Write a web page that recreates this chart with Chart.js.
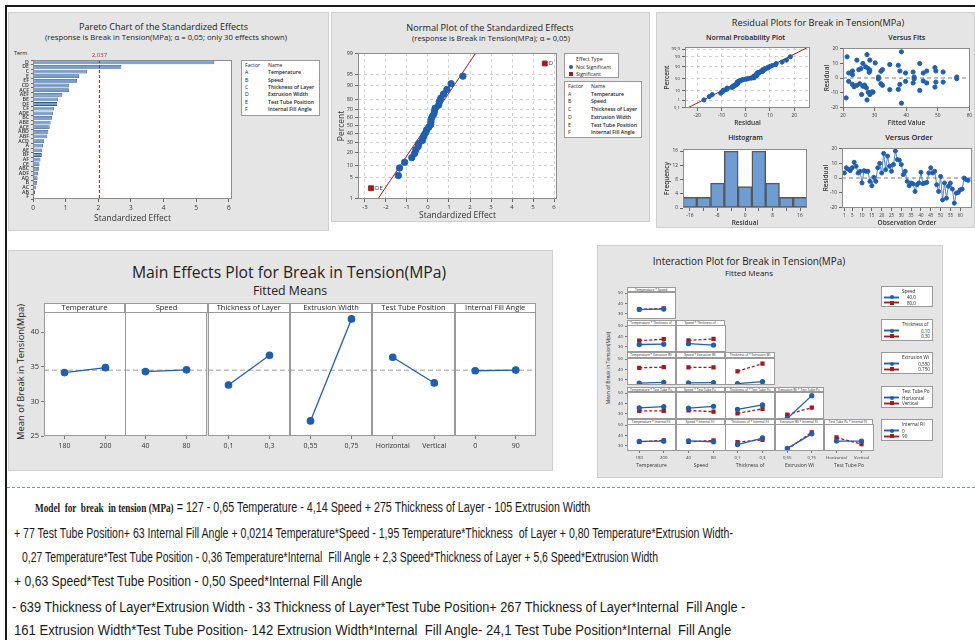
<!DOCTYPE html>
<html lang="en">
<head>
<meta charset="UTF-8">
<title>Break in Tension - DOE plots</title>
<script src="https://cdn.jsdelivr.net/npm/chart.js"></script>
<style>
  body { margin: 0; background: #fff; }
  #page { position: relative; width: 975px; height: 640px; overflow: hidden; background: #fff; }
  .blk { position: absolute; box-sizing: border-box; }
  canvas { position: absolute; }
</style>
</head>
<body>
<div id="page"></div>
<script>
// ---------------- data ----------------
const factorCodes = ['A', 'B', 'C', 'D', 'E', 'F'];
const factorNames = ['Temperature', 'Speed', 'Thickness of Layer', 'Extrusion Width', 'Test Tube Position', 'Internal Fill Angle'];

// standardized effects (signed), in pareto order
const effectTerms = ['D', 'DE', 'C', 'E', 'EF', 'CD', 'ACF', 'AEF', 'BE', 'DF', 'CF', 'ADE', 'BC', 'ABE', 'ACE',
  'ABD', 'ABF', 'ACD', 'A', 'AE', 'BF', 'AF', 'CE', 'ABC', 'ADF', 'AD', 'B', 'AC', 'AB', 'F'];
const effectValues = [5.56, -2.71, 1.66, -1.41, -1.35, -1.11, 1.10, 0.90, -0.77, 0.74, -0.64, 0.61, -0.58, 0.54, 0.51,
  -0.47, -0.44, 0.34, 0.31, 0.28, -0.27, -0.23, 0.20, -0.18, 0.15, 0.14, 0.13, -0.10, -0.06, 0.04];
const alphaLimit = 2.037;
const effectLineX = [-2.37, 2.27];
const effectLineP = [1, 99];
const effectPctTicks = [1, 5, 10, 20, 30, 40, 50, 60, 70, 80, 90, 95, 99];

// residuals in observation order
const residuals = [3.4, 7, 6, 5, 7, 10.8, 8, 3.4, 4.6, -3.4, 5, 4.6, 4.6, -2.3, -5.3, 0.5, -2.3, 7, 10, 3.4,
  16.8, 5.7, 15, 8, 4.6, 9.2, 18.4, 12.6, 12.2, 9.2, 2.3, 4.6, -2.3, -5.3, -3.4, -4, -9.2, -4.6, -3.4, 3.9,
  -3.9, -3.4, -3, 3.4, 7, 3.4, 4.6, -4.6, -9.2, 1.1, -15, -3.4, -13.8, -5.7, -3.4, -7.6, -17.2, -10.3, -9.9, -8,
  -7.6, 0, -1.1, -1.6];
const fitValues = [21.8, 21.8, 23, 23, 23, 21, 21.3, 24.4, 25, 25.7, 26.3, 27.6, 28.5, 27.2, 28, 28.5, 28.3, 30.2, 24.4, 25.3,
  26.3, 27.4, 28, 28.5, 29.5, 27.6, 25.9, 23.5, 31.2, 31.2, 32, 32.5, 32, 32.5, 34.8, 34.8, 37.5, 38, 38.5, 37.5,
  38, 38.5, 39.8, 39.8, 42.2, 42.5, 42.5, 42.2, 44.3, 44.3, 45.4, 46.5, 45.4, 46.5, 49.1, 49.4, 49.1, 49.4, 51.7, 51.7,
  56, 56, 26.8, 29.2];
const fitResiduals = [3.4, -2.3, 4.8, 2.3, -4.4, -13.6, 14.5, 12.2, 5.7, 6.4, 9.9, 16, 12.2, 7.6, 6.4, 5.3, 3.9, 10.3, -5, -3.9,
  -5.7, -6.7, -9.7, -11.3, -9.7, -15, -11.3, -6, 0.7, -0.7, 4.6, 5.7, -3.9, -5, 9.2, -8, 8.7, 4.8, 17.9, -7.8,
  -4.4, -17.2, 3.4, -2.3, 4.1, 0.7, -0.7, -3.4, 9.9, -8.5, 3.4, 4.8, -2, -3.4, 7.1, 4.8, -6.2, -2.8, 4.1, -2.8,
  0.7, -0.5, -4.8, -9.4];
const residLineX = [-25.1, 25.6];
const residLineP = [0.05, 99.95];
const residPctTicks = [0.1, 1, 10, 50, 90, 99, 99.9];
const histBins = [-16, -12, -8, -4, 0, 4, 8, 12, 16];
const histCounts = [3, 3, 7, 16, 6, 16, 7, 3, 3];
const orderTicks = [1, 5, 10, 15, 20, 25, 30, 35, 40, 45, 50, 55, 60];

// main effects (fitted means)
const mainFactors = ['Temperature', 'Speed', 'Thickness of Layer', 'Extrusion Width', 'Test Tube Position', 'Internal Fill Angle'];
const mainLevels = [['180', '200'], ['40', '80'], ['0,1', '0,3'], ['0,55', '0,75'], ['Horizontal', 'Vertical'], ['0', '90']];
const mainMeans = [[34.15, 34.87], [34.3, 34.55], [32.36, 36.65], [27.17, 41.9], [36.37, 32.66], [34.42, 34.52]];
const grandMean = 34.5;

// interaction (fitted means): columns = x factor, rows = trace factor
const intColFactors = ['Temperature', 'Speed', 'Thickness of', 'Extrusion Wi', 'Test Tube Po'];
const intColLevels = [['180', '200'], ['40', '80'], ['0,1', '0,3'], ['0,55', '0,75'], ['Horizontal', 'Vertical']];
const intRowFactors = ['Speed', 'Thickness of', 'Extrusion Wi', 'Test Tube Po', 'Internal Fil'];
const intRowLevels = [['40,0', '80,0'], ['0,10', '0,30'], ['0,550', '0,750'], ['Horizontal', 'Vertical'], ['0', '90']];
const intLow = [
  [[34.3, 34.6]],
  [[32.2, 32.5], [33.0, 31.7]],
  [[26.8, 27.6], [27.0, 27.3], [26.3, 28.2]],
  [[35.8, 36.9], [35.5, 37.2], [34.3, 38.6], [25.5, 47.5]],
  [[34.3, 34.5], [34.8, 33.9], [31.2, 37.5], [27.5, 41.5], [34.6, 34.6]]
];
const intHigh = [
  [[34.2, 35.2]],
  [[36.0, 37.3], [36.2, 37.6]],
  [[41.6, 42.2], [41.9, 41.9], [38.2, 45.6]],
  [[32.9, 32.8], [33.2, 32.0], [30.5, 34.8], [29.2, 36.0]],
  [[33.8, 35.3], [33.8, 35.2], [33.5, 35.8], [26.5, 43.0], [38.0, 31.6]]
];

const modelLines = [
  ' = 127 - 0,65 Temperature - 4,14 Speed + 275 Thickness of Layer - 105 Extrusion Width',
  '+ 77 Test Tube Position+ 63 Internal Fill Angle + 0,0214 Temperature*Speed - 1,95 Temperature*Thickness  of Layer + 0,80 Temperature*Extrusion Width-',
  '0,27 Temperature*Test Tube Position - 0,36 Temperature*Internal  Fill Angle + 2,3 Speed*Thickness of Layer + 5,6 Speed*Extrusion Width',
  '+ 0,63 Speed*Test Tube Position - 0,50 Speed*Internal Fill Angle',
  '- 639 Thickness of Layer*Extrusion Width - 33 Thickness of Layer*Test Tube Position+ 267 Thickness of Layer*Internal  Fill Angle -',
  '161 Extrusion Width*Test Tube Position- 142 Extrusion Width*Internal  Fill Angle- 24,1 Test Tube Position*Internal  Fill Angle'
];

// ---------------- helpers ----------------
const FONT = "'Open Sans', 'Noto Sans', sans-serif";
const BLUE = '#1f5fae', RED = '#a31a1f';
const page = document.getElementById('page');

function probit(p) {
  const a = [-39.69683028665376, 220.9460984245205, -275.9285104469687, 138.3577518672690, -30.66479806614716, 2.506628277459239];
  const b = [-54.47609879822406, 161.5858368580409, -155.6989798598866, 66.80131188771972, -13.28068155288572];
  const c = [-0.007784894002430293, -0.3223964580411365, -2.400758277161838, -2.549732539343734, 4.374664141464968, 2.938163982698783];
  const d = [0.007784695709041462, 0.3224671290700398, 2.445134137142996, 3.754408661907416];
  const tail = q => (((((c[0] * q + c[1]) * q + c[2]) * q + c[3]) * q + c[4]) * q + c[5]) / ((((d[0] * q + d[1]) * q + d[2]) * q + d[3]) * q + 1);
  if (p < 0.02425) return tail(Math.sqrt(-2 * Math.log(p)));
  if (p > 1 - 0.02425) return -tail(Math.sqrt(-2 * Math.log(1 - p)));
  const q = p - 0.5, r = q * q;
  return (((((a[0] * r + a[1]) * r + a[2]) * r + a[3]) * r + a[4]) * r + a[5]) * q /
    (((((b[0] * r + b[1]) * r + b[2]) * r + b[3]) * r + b[4]) * r + 1);
}

function div(x, y, w, h, css) {
  const d = document.createElement('div');
  d.className = 'blk';
  d.style.cssText += `left:${x}px;top:${y}px;width:${w}px;height:${h}px;` + (css || '');
  page.appendChild(d);
  return d;
}

function label(text, x, y, o = {}) {
  const d = document.createElement('div');
  d.textContent = text;
  const size = o.size || 8;
  const k = size < 6 ? 2 : 1;   // tiny text is drawn big and shrunk
  d.style.cssText = `position:absolute;left:${x}px;top:${y}px;white-space:nowrap;line-height:1;` +
    `font-family:${o.family || FONT};font-size:${size * k}px;font-weight:${o.weight || 400};color:${o.color || '#222'};`;
  page.appendChild(d);
  if (o.fitW) d.style.fontSize = (size * k * o.fitW * k / d.offsetWidth) + 'px';
  const tx = o.align === 'left' ? '0' : o.align === 'right' ? '-100%' : '-50%';
  d.style.transformOrigin = '0 0';
  d.style.transform = (o.rotate ? `rotate(${o.rotate}deg) ` : '') + `scale(${1 / k}) translate(${tx},-50%)`;
  return d;
}

const fixed = vals => s => { s.ticks = vals.map(v => ({ value: v })); };

const plotBox = {
  id: 'plotBox',
  defaults: { fill: '#fff', stroke: '#8c8c8c' },
  beforeDraw(chart, args, o) {
    const { ctx, chartArea: a } = chart;
    ctx.save(); ctx.fillStyle = o.fill; ctx.fillRect(a.left, a.top, a.width, a.height); ctx.restore();
  },
  afterDraw(chart, args, o) {
    const { ctx, chartArea: a } = chart;
    ctx.save(); ctx.strokeStyle = o.stroke; ctx.lineWidth = 1;
    ctx.strokeRect(Math.round(a.left) + 0.5, Math.round(a.top) + 0.5, Math.round(a.width) - 1, Math.round(a.height) - 1);
    ctx.restore();
  }
};

function drawRef(chart, o, front) {
  const { ctx, chartArea: a, scales } = chart;
  (o.lines || []).filter(L => !!L.front === front).forEach(L => {
    ctx.save();
    ctx.strokeStyle = L.color; ctx.lineWidth = L.width || 1; ctx.setLineDash(L.dash || []);
    ctx.beginPath();
    if (L.axis === 'x') {
      const px = scales.x.getPixelForValue(L.value);
      ctx.moveTo(px, a.top); ctx.lineTo(px, a.bottom); ctx.stroke();
      if (L.label) {
        ctx.fillStyle = L.color; ctx.font = `6px ${FONT}`; ctx.textAlign = 'center'; ctx.textBaseline = 'bottom';
        ctx.fillText(L.label, px, a.top - 2);
      }
    } else {
      const py = scales.y.getPixelForValue(L.value);
      ctx.moveTo(a.left, py); ctx.lineTo(a.right, py); ctx.stroke();
    }
    ctx.restore();
  });
}
const refLines = {
  id: 'refLines',
  beforeDatasetsDraw(chart, args, o) { drawRef(chart, o, false); },
  afterDatasetsDraw(chart, args, o) { drawRef(chart, o, true); }
};

const pointTags = {
  id: 'pointTags',
  afterDatasetsDraw(chart, args, o) {
    if (o.dataset === undefined) return;
    const meta = chart.getDatasetMeta(o.dataset);
    const ds = chart.data.datasets[o.dataset];
    const ctx = chart.ctx;
    ctx.save(); ctx.font = `6px ${FONT}`; ctx.fillStyle = '#333'; ctx.textBaseline = 'middle';
    meta.data.forEach((pt, i) => ctx.fillText(ds.data[i].term, pt.x + 4, pt.y));
    ctx.restore();
  }
};

Chart.register(plotBox, refLines, pointTags);
Chart.defaults.font.family = FONT;
Chart.defaults.color = '#333';
Chart.defaults.plugins.legend.display = false;
Chart.defaults.plugins.tooltip.enabled = false;

// plot = chart area in page pixels, m = room around it for axes
function chartAt(plot, m, cfg) {
  const [x0, y0, x1, y1] = plot;
  const w = Math.round(x1 - x0 + m.l + m.r), h = Math.round(y1 - y0 + m.t + m.b);
  const c = document.createElement('canvas');
  c.width = w; c.height = h;
  c.style.left = (x0 - m.l) + 'px'; c.style.top = (y0 - m.t) + 'px';
  c.style.width = w + 'px'; c.style.height = h + 'px';
  page.appendChild(c);
  const o = cfg.options = cfg.options || {};
  o.responsive = false; o.animation = false;
  o.layout = { autoPadding: false, padding: { left: 0, top: m.t, right: m.r, bottom: 0 } };
  // fixed axis sizes, and no extra room for overhanging labels
  o.scales.x.afterFit = s => { s.height = m.b; s.paddingLeft = 0; s.paddingRight = 0; };
  o.scales.y.afterFit = s => { s.width = m.l; s.paddingTop = 0; s.paddingBottom = 0; };
  return new Chart(c, cfg);
}

function tickAxis(extra) {
  const base = {
    ticks: { font: { size: 6 }, padding: 2, maxRotation: 0, autoSkip: false },
    grid: { drawOnChartArea: false, tickLength: 3, color: '#666' },
    border: { display: false }
  };
  return Object.assign({}, base, extra, {
    ticks: Object.assign({}, base.ticks, extra.ticks),
    grid: Object.assign({}, base.grid, extra.grid),
    border: Object.assign({}, base.border, extra.border)
  });
}

// ---------------- frame and panels ----------------
div(5, 5, 970, 2, 'background:#1a1a1a;');
div(5, 5, 2, 635, 'background:#1a1a1a;');
const panelCss = 'background:#e5e5e5;border:1px solid #cfcfcf;';
div(8, 12, 321, 219, panelCss);
div(331, 12, 319, 210, panelCss);
div(656, 12, 319, 216, panelCss);
div(8, 250, 545, 221, panelCss);
div(597, 245, 346, 233, panelCss);

// ---------------- Pareto chart ----------------
label('Pareto Chart of the Standardized Effects', 163.5, 27, { size: 10.5, fitW: 169 });
label('(response is Break in Tension(MPa); \u03b1 = 0,05; only 30 effects shown)', 166, 38, { size: 7, fitW: 242 });
label('Term', 14, 53, { size: 5.5, align: 'left' });

chartAt([33, 60, 232, 199], { l: 27, t: 15, r: 6, b: 25 }, {
  type: 'bar',
  data: {
    labels: effectTerms,
    datasets: [{ data: effectValues.map(Math.abs), backgroundColor: '#729fd6', borderColor: '#3b5680', borderWidth: 0.8,
      borderSkipped: false, barPercentage: 0.82, categoryPercentage: 1 }]
  },
  options: {
    indexAxis: 'y',
    scales: {
      x: tickAxis({ type: 'linear', min: 0, max: 6.1, afterBuildTicks: fixed([0, 1, 2, 3, 4, 5, 6]),
        ticks: { font: { size: 6.5 } },
        title: { display: true, text: 'Standardized Effect', font: { size: 8.5 }, padding: 0 } }),
      y: tickAxis({ ticks: { font: { size: 5.3, weight: '600' } }, grid: { tickLength: 2 } })
    },
    plugins: { refLines: { lines: [{ axis: 'x', value: alphaLimit, color: '#d3202a', dash: [3, 2], width: 1.2, front: true, label: '2,037' }] } }
  }
});

function factorTable(x, y, w, h, rowH, hx) {
  div(x, y, w, h, 'background:#fff;border:1px solid #999;');
  label('Factor', x + 4, y + 5, { size: 5.2, align: 'left' });
  label('Name', x + hx, y + 5, { size: 5.2, align: 'left' });
  factorCodes.forEach((f, i) => {
    label(f, x + 4, y + 5 + rowH * (i + 1), { size: 5.2, align: 'left' });
    label(factorNames[i], x + hx, y + 5 + rowH * (i + 1), { size: 5.2, align: 'left', weight: 600 });
  });
}
factorTable(241, 60, 79, 56, 7.3, 27);

// ---------------- Normal plot of effects ----------------
label('Normal Plot of the Standardized Effects', 490, 28, { size: 10.5, fitW: 168 });
label('(response is Break in Tension(MPa); \u03b1 = 0,05)', 491, 39, { size: 7, fitW: 158 });

const nEff = effectValues.length;
const effOrder = effectValues.map((v, i) => i).sort((a, b) => effectValues[a] - effectValues[b]);
const effPts = effOrder.map((idx, r) => ({ x: effectValues[idx], y: probit((r + 0.7) / (nEff + 0.4)), term: effectTerms[idx] }));
const isSig = p => Math.abs(p.x) > alphaLimit;

const dashGrid = { drawOnChartArea: true, tickLength: 3, color: '#d0d0d0', tickColor: '#666', tickBorderDash: [] };
chartAt([358, 53, 557, 199], { l: 22, t: 6, r: 4, b: 22 }, {
  type: 'scatter',
  data: {
    datasets: [
      { data: effPts.filter(p => !isSig(p)), pointStyle: 'circle', pointRadius: 3.2, backgroundColor: BLUE, borderColor: BLUE },
      { data: effPts.filter(isSig), pointStyle: 'rect', pointRadius: 3.4, backgroundColor: RED, borderColor: RED },
      { type: 'line', data: effectLineX.map((x, i) => ({ x, y: probit(effectLineP[i] / 100) })), borderColor: RED, borderWidth: 1, pointRadius: 0 }
    ]
  },
  options: {
    scales: {
      x: tickAxis({ type: 'linear', min: -3.33, max: 6.14, afterBuildTicks: fixed([-3, -2, -1, 0, 1, 2, 3, 4, 5, 6]),
        grid: dashGrid, border: { dash: [3, 3] },
        title: { display: true, text: 'Standardized Effect', font: { size: 8.5 }, padding: 0 } }),
      y: tickAxis({ type: 'linear', min: -2.34, max: 2.33, afterBuildTicks: fixed(effectPctTicks.map(p => probit(p / 100))),
        ticks: { font: { size: 5.5 }, callback: (v, i) => String(effectPctTicks[i]) },
        grid: dashGrid, border: { dash: [3, 3] },
        title: { display: true, text: 'Percent', font: { size: 8.5 }, padding: 0 } })
    },
    plugins: { pointTags: { dataset: 1 } }
  }
});

div(564, 53, 55, 25, 'background:#fff;border:1px solid #999;');
label('Effect Type', 576, 59, { size: 5.2, align: 'left' });
div(568.5, 64.8, 4.4, 4.4, `background:${BLUE};border-radius:50%;`);
label('Not Significant', 576, 67, { size: 5.2, align: 'left' });
div(568.5, 72, 4.2, 4.2, `background:${RED};`);
label('Significant', 576, 74, { size: 5.2, align: 'left' });
factorTable(564, 81, 78, 57, 7.7, 27);

// ---------------- Residual plots ----------------
label('Residual Plots for Break in Tension(MPa)', 818, 23, { size: 10, fitW: 173 });
label('Normal Probability Plot', 745.5, 38, { size: 7.5, weight: 600, fitW: 79 });
label('Versus Fits', 906.7, 38, { size: 7.5, weight: 600, fitW: 37 });
label('Histogram', 745.5, 138, { size: 7.5, weight: 600, fitW: 35 });
label('Versus Order', 909, 138, { size: 7.5, weight: 600, fitW: 48 });

const smallTitle = t => ({ display: true, text: t, font: { size: 6.5, weight: '600' }, padding: 0 });

const nRes = residuals.length;
const resSorted = residuals.slice().sort((a, b) => a - b);
chartAt([685, 47, 810, 108], { l: 22, t: 5, r: 4, b: 19 }, {
  type: 'scatter',
  data: {
    datasets: [
      { data: resSorted.map((r, i) => ({ x: r, y: probit((i + 0.7) / (nRes + 0.4)) })), pointRadius: 2.1, backgroundColor: BLUE, borderColor: BLUE },
      { type: 'line', data: residLineX.map((x, i) => ({ x, y: probit(residLineP[i] / 100) })), borderColor: RED, borderWidth: 1, pointRadius: 0 }
    ]
  },
  options: {
    scales: {
      x: tickAxis({ type: 'linear', min: -25, max: 26.5, afterBuildTicks: fixed([-20, -10, 0, 10, 20]), ticks: { font: { size: 4.8 } },
        grid: dashGrid, border: { dash: [3, 3] }, title: smallTitle('Residual') }),
      y: tickAxis({ type: 'linear', min: -3.15, max: 3.33, afterBuildTicks: fixed(residPctTicks.map(p => probit(p / 100))),
        ticks: { font: { size: 4.3 }, callback: (v, i) => String(residPctTicks[i]).replace('.', ',') },
        grid: dashGrid, border: { dash: [3, 3] }, title: smallTitle('Percent') })
    }
  }
});

const zeroLine = { refLines: { lines: [{ axis: 'y', value: 0, color: '#a8a8a8', dash: [4, 3], width: 1.5 }] } };
chartAt([843, 48, 970, 108], { l: 20, t: 5, r: 4, b: 19 }, {
  type: 'scatter',
  data: { datasets: [{ data: fitValues.map((f, i) => ({ x: f, y: fitResiduals[i] })), pointRadius: 2.1, backgroundColor: BLUE, borderColor: BLUE }] },
  options: {
    scales: {
      x: tickAxis({ type: 'linear', min: 20, max: 60.2, afterBuildTicks: fixed([20, 30, 40, 50, 60]), ticks: { font: { size: 4.8 } }, title: smallTitle('Fitted Value') }),
      y: tickAxis({ type: 'linear', min: -20.5, max: 20.5, afterBuildTicks: fixed([-20, -10, 0, 10, 20]), ticks: { font: { size: 4.8 } }, title: smallTitle('Residual') })
    },
    plugins: zeroLine
  }
});

chartAt([683, 149, 807, 208], { l: 20, t: 5, r: 4, b: 19 }, {
  type: 'bar',
  data: {
    labels: histBins.map(String),
    datasets: [{ data: histCounts, backgroundColor: '#6e9dd4', borderColor: '#585858', borderWidth: 1.5, borderSkipped: false,
      barPercentage: 1, categoryPercentage: 1 }]
  },
  options: {
    scales: {
      x: tickAxis({ ticks: { font: { size: 4.8 }, callback: (v, i) => (i % 2 === 0 ? String(histBins[i]) : '') },
        grid: { offset: false }, title: smallTitle('Residual') }),
      y: tickAxis({ type: 'linear', min: 0, max: 16.6, afterBuildTicks: fixed([0, 4, 8, 12, 16]), ticks: { font: { size: 4.8 } }, title: smallTitle('Frequency') })
    }
  }
});

chartAt([842, 148, 972, 208], { l: 20, t: 5, r: 3, b: 19 }, {
  type: 'line',
  data: {
    datasets: [{ data: residuals.map((r, i) => ({ x: i + 1, y: r })), borderColor: '#4f86c9', borderWidth: 1,
      pointRadius: 2, pointBackgroundColor: BLUE, pointBorderColor: BLUE }]
  },
  options: {
    scales: {
      x: tickAxis({ type: 'linear', min: -0.2, max: 66, afterBuildTicks: fixed(orderTicks), ticks: { font: { size: 4.4 } }, title: smallTitle('Observation Order') }),
      y: tickAxis({ type: 'linear', min: -20.5, max: 20.5, afterBuildTicks: fixed([-20, -10, 0, 10, 20]), ticks: { font: { size: 4.8 } }, title: smallTitle('Residual') })
    },
    plugins: zeroLine
  }
});

// ---------------- Main effects plot ----------------
label('Main Effects Plot for Break in Tension(MPa)', 289, 273, { size: 16, fitW: 314 });
label('Fitted Means', 290, 290.7, { size: 12, fitW: 74 });
label('Mean of Break in Tension(Mpa)', 21, 372, { size: 10.5, rotate: -90, fitW: 136 });
const mainX = [43.6, 125.3, 207.7, 289.8, 372.2, 454.7, 535.7];
mainFactors.forEach((f, k) => {
  const x0 = mainX[k], x1 = mainX[k + 1];
  chartAt([x0, 312, x1, 435.5], { l: k === 0 ? 31 : 0, t: 4, r: 0, b: 14 }, {
    type: 'line',
    data: { labels: mainLevels[k], datasets: [{ data: mainMeans[k], borderColor: BLUE, backgroundColor: BLUE, borderWidth: 1.3, pointRadius: 3.2 }] },
    options: {
      scales: {
        x: tickAxis({ offset: true, ticks: { font: { size: 7 }, padding: 3 }, grid: { offset: false, color: '#777' } }),
        y: tickAxis({ display: k === 0, min: 25, max: 42.9, afterBuildTicks: fixed([25, 30, 35, 40]),
          ticks: { font: { size: 7.5 } }, grid: { color: '#777' } })
      },
      plugins: {
        plotBox: { stroke: '#9a9a9a' },
        refLines: { lines: [{ axis: 'y', value: grandMean, color: '#bcbcbc', dash: [5, 3], width: 1.5 }] }
      }
    }
  });
  div(x0, 303, x1 - x0, 10, 'background:#fff;border:1px solid #9a9a9a;');
  label(f, (x0 + x1) / 2, 308, { size: 7.5 });
});

// ---------------- Interaction plot ----------------
label('Interaction Plot for Break in Tension(MPa)', 749, 262, { size: 11, fitW: 193 });
label('Fitted Means', 749, 273, { size: 8, fitW: 48 });
label('Mean of Break in Tension(Mpa)', 608, 368, { size: 5, rotate: -90 });
const colX = [627, 675.5, 725, 775, 823.5, 873];
const rowTop = [286.7, 320, 352.3, 386.7, 419];
intRowFactors.forEach((rf, r) => {
  for (let c = 0; c <= r; c++) {
    const x0 = colX[c], x1 = colX[c + 1];
    const bottom = r === intRowFactors.length - 1;
    chartAt([x0, rowTop[r] + 5.3, x1, rowTop[r] + 31.8], { l: c === 0 ? 14 : 0, t: 3, r: 0, b: bottom ? 18 : 0 }, {
      type: 'line',
      data: {
        labels: intColLevels[c],
        datasets: [
          { data: intLow[r][c], borderColor: BLUE, backgroundColor: BLUE, borderWidth: 1.3, pointRadius: 2, pointStyle: 'circle' },
          { data: intHigh[r][c], borderColor: RED, backgroundColor: RED, borderWidth: 1.3, borderDash: [3, 2], pointRadius: 2.1, pointStyle: 'rect' }
        ]
      },
      options: {
        scales: {
          x: tickAxis({ display: bottom, offset: true, ticks: { font: { size: 4.3 } },
            grid: { offset: false, tickLength: 2, color: '#777' },
            title: { display: true, text: intColFactors[c], font: { size: 5 }, padding: 0 } }),
          y: tickAxis({ display: c === 0, min: 25, max: 51, afterBuildTicks: fixed([30, 40, 50]),
            ticks: { font: { size: 4.3 } }, grid: { tickLength: 2, color: '#777' } })
        },
        plugins: { plotBox: { stroke: '#9a9a9a' } }
      }
    });
    div(x0, rowTop[r], x1 - x0, 5.5, 'background:#fff;border:1px solid #9a9a9a;');
    label(intColFactors[c] + ' * ' + rf, (x0 + x1) / 2, rowTop[r] + 2.8, { size: 3.2 });
  }
});

function legendRow(x, y, color, halo, square) {
  div(x, y - 1.5, 15, 3, `background:${halo};`);
  div(x, y - 0.5, 15, 1, `background:${color};`);
  div(x + 5.5, y - 2, 4, 4, `background:${color};` + (square ? '' : 'border-radius:50%;'));
}
const legTops = [285.7, 319, 352, 386, 419];
intRowFactors.forEach((rf, r) => {
  const t = legTops[r];
  div(881, t, 52, 21.5, 'background:#fff;border:1px solid #999;');
  label(rf, 902, t + 5, { size: 4.6, align: 'left' });
  legendRow(884, t + 11.5, BLUE, '#9dbce4', false);
  legendRow(884, t + 17, RED, '#dba0a2', true);
  const numeric = r < 3;
  const lx = numeric ? (r === 0 ? 916 : 930) : 902;
  const al = numeric ? 'right' : 'left';
  label(intRowLevels[r][0], lx, t + 11.5, { size: 4.6, align: al });
  label(intRowLevels[r][1], lx, t + 17, { size: 4.6, align: al });
});

// ---------------- model equation ----------------
div(7, 487, 968, 1, 'border-top:1px dashed #5b9bd5;');
const modelPos = [[35, 590, 507], [14, 733, 533], [22, 658, 557], [14, 362, 581], [12, 745, 607], [14, 731, 630]];
modelLines.forEach((t, i) => {
  const [xa, xb, y] = modelPos[i];
  const d = document.createElement('div');
  d.style.cssText = `position:absolute;left:${xa}px;top:${y}px;white-space:pre;line-height:1;color:#1a1a1a;` +
    `font-family:'Liberation Sans Narrow','Arial Narrow','Liberation Sans',sans-serif;font-size:14px;`;
  if (i === 0) {
    const b = document.createElement('span');
    b.textContent = 'Model  for  break  in tension (MPa)';
    b.style.cssText = "font-family:'Liberation Serif','DejaVu Serif',serif;font-weight:700;font-size:12px;";
    d.appendChild(b);
  }
  d.appendChild(document.createTextNode(t));
  page.appendChild(d);
  const sx = (xb - xa) / d.offsetWidth;
  d.style.transformOrigin = '0 0';
  d.style.transform = `translateY(-50%) scaleX(${sx})`;
});
</script>
</body>
</html>
